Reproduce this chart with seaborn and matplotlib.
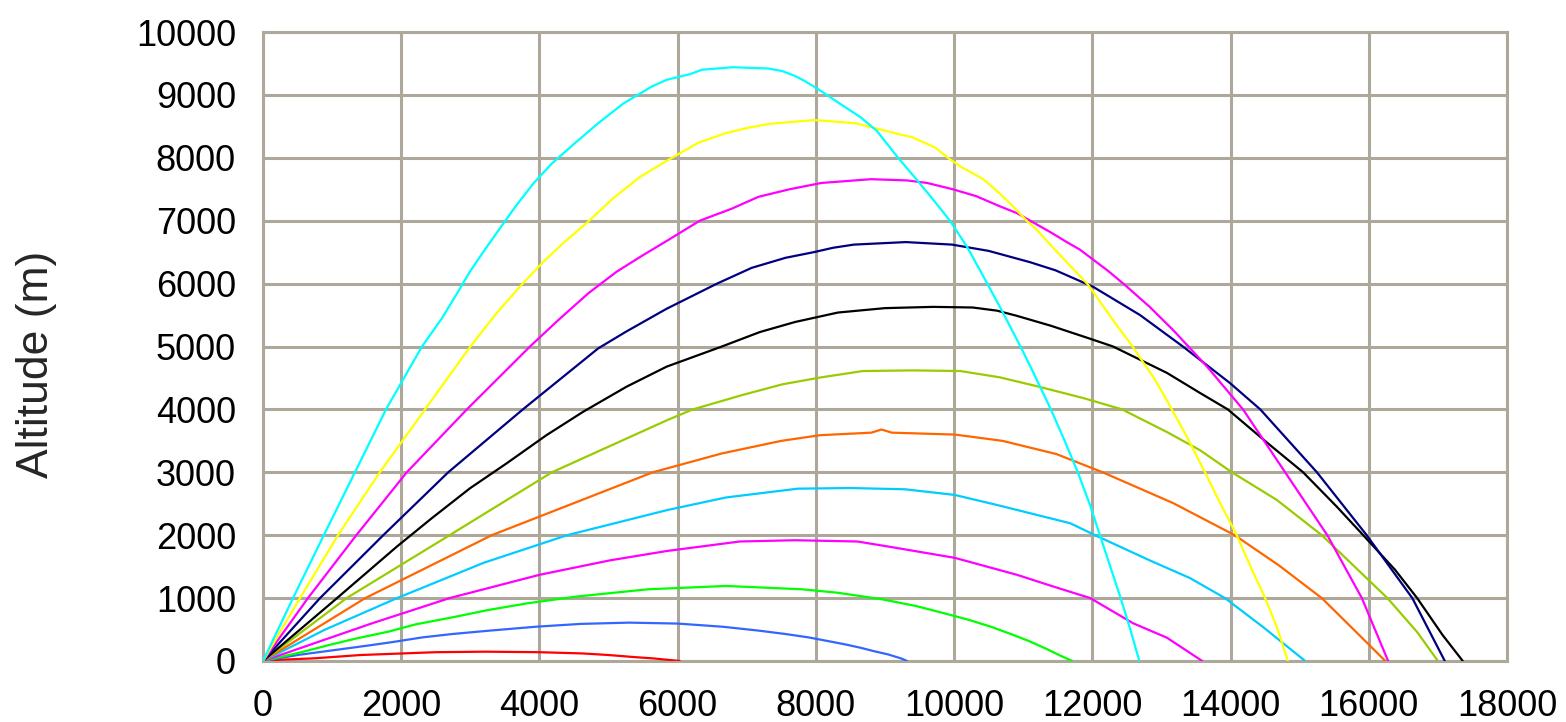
import numpy as np
import pandas as pd
import matplotlib
matplotlib.use("Agg")
import matplotlib.pyplot as plt
import seaborn as sns

# ---- data (distance m, altitude m) ----
t01_x = [0, 250, 735, 1410, 2500, 3220, 4000, 4630, 5000, 5400, 5640, 6030]
t01_y = [0, 20, 42, 95, 140, 148, 140, 120, 95, 60, 42, 0]

t02_x = [0, 500, 1220, 1575, 1910, 2310, 2740, 3270, 3950, 4600, 5300, 6000, 6650, 7180, 7560, 7890, 8170, 8420,
         8640, 8830, 9040, 9230, 9320]
t02_y = [0, 95, 201, 254, 307, 376, 429, 482, 545, 590, 610, 595, 545, 482, 429, 376, 318, 265,
         212, 159, 106, 42, 0]

t03_x = [0, 584, 955, 1356, 1814, 2210, 2740, 3260, 3825, 4525, 5570, 6700, 7800, 8310, 8960, 9450, 9860, 10220,
         10530, 10820, 11070, 11320, 11520, 11710]
t03_y = [0, 148, 254, 360, 466, 583, 694, 811, 917, 1023, 1140, 1193, 1140, 1086, 981, 874, 758, 652,
         546, 429, 323, 201, 95, 0]

t04_x = [0, 1580, 2700, 4000, 5020, 5850, 6900, 7700, 8600, 9100, 10010, 10910, 11390, 11680, 11970, 12590, 13080, 13590]
t04_y = [0, 600, 1000, 1370, 1600, 1750, 1900, 1920, 1900, 1810, 1640, 1370, 1200, 1100, 1000, 600, 370, 0]

t05_x = [0, 900, 1940, 3190, 4400, 5850, 6700, 7740, 8500, 9290, 10010, 10660, 11680, 12040, 12830, 13410, 13920, 14470, 15080]
t05_y = [0, 500, 1000, 1560, 2000, 2400, 2600, 2740, 2750, 2730, 2640, 2470, 2190, 2000, 1600, 1320, 1000, 540, 0]

t06_x = [0, 1480, 3310, 5640, 6640, 7500, 8060, 8800, 8950, 9100, 10010, 10700, 11480, 12150, 13170, 14060, 14700,
         15320, 15800, 16240]
t06_y = [0, 1000, 2000, 3000, 3300, 3500, 3590, 3630, 3680, 3630, 3600, 3500, 3290, 3000, 2510, 2000, 1520,
         1000, 480, 0]

t07_x = [0, 1210, 2700, 4180, 5850, 6220, 6940, 7520, 8080, 8680, 9400, 10090, 10660, 11230, 11870, 12430, 13080,
         13560, 14020, 14670, 15320, 16270, 16700, 17000]
t07_y = [0, 1000, 2000, 3000, 3830, 4000, 4230, 4400, 4510, 4610, 4620, 4610, 4510, 4360, 4180, 4000, 3640,
         3350, 3000, 2560, 2000, 1000, 460, 0]

t08_x = [0, 1018, 1452, 1935, 2441, 2995, 3526, 4105, 4635, 5262, 5841, 6640, 7190, 7700, 8320, 9000, 9700, 10270,
         10620, 10900, 11400, 11950, 12300, 13080, 13560, 13960, 14530, 15050, 15540, 15920, 16380, 16700, 17070, 17360]
t08_y = [0, 950, 1360, 1817, 2269, 2746, 3143, 3593, 3964, 4362, 4680, 5000, 5230, 5390, 5540, 5610, 5630, 5620,
         5570, 5490, 5330, 5130, 5000, 4580, 4260, 4000, 3470, 3000, 2450, 2000, 1450, 1000, 410, 0]

t09_x = [0, 825, 1740, 2680, 3760, 4850, 5260, 5840, 6570, 7070, 7560, 7970, 8250, 8550, 9300, 9970, 10500, 11100,
         11470, 12010, 12690, 13310, 13990, 14430, 15250, 15970, 16630, 17100]
t09_y = [0, 1000, 2000, 3000, 4000, 4970, 5240, 5600, 6000, 6250, 6410, 6500, 6570, 6620, 6660, 6620, 6520, 6340,
         6210, 5950, 5500, 5000, 4420, 4000, 3000, 2000, 1000, 0]

t10_x = [0, 650, 1350, 2080, 2950, 3863, 4273, 4707, 5118, 5503, 5865, 6320, 6780, 7170, 7620, 8080, 8800, 9320,
         9610, 9980, 10320, 10660, 10910, 11100, 11390, 11630, 11820, 12230, 12480, 12830, 13170, 13390, 13660,
         14180, 14790, 15400, 15900, 16280]
t10_y = [0, 1000, 2000, 3000, 4000, 5000, 5420, 5846, 6190, 6455, 6694, 7000, 7190, 7380, 7500, 7600, 7660, 7640,
         7600, 7500, 7390, 7230, 7120, 7000, 6820, 6660, 6540, 6200, 5970, 5630, 5260, 5000, 4680,
         4000, 3000, 2000, 1000, 0]

t11_x = [0, 535, 1085, 1690, 2345, 3000, 3380, 3740, 4060, 4350, 4710, 5070, 5460, 5870, 6300, 6690, 7030, 7330,
         7970, 8570, 8970, 9180, 9390, 9550, 9730, 9910, 10110, 10260, 10420, 10570, 10710, 10850, 11050, 11200,
         11390, 11940, 12350, 12570, 12690, 12880, 13050, 13150, 13370, 13630, 13850, 14090, 14310, 14500, 14670,
         14830]
t11_y = [0, 1000, 2000, 3000, 4000, 5000, 5530, 5980, 6350, 6650, 6990, 7360, 7700, 7970, 8240, 8390, 8480, 8540,
         8600, 8550, 8440, 8380, 8330, 8250, 8160, 8000, 7850, 7760, 7660, 7520, 7380, 7230, 7000, 6850,
         6620, 5980, 5340, 5020, 4820, 4520, 4200, 4000, 3560, 3000, 2510, 2000, 1450, 1000, 540,
         0]

t12_x = [0, 434, 880, 1330, 1780, 2300, 2590, 2800, 3000, 3210, 3410, 3650, 3910, 4180, 4510, 4850, 5210, 5620,
         5840, 6180, 6350, 6800, 7310, 7510, 7700, 7840, 8050, 8320, 8640, 8880, 9190, 9460, 9700, 9940, 10190,
         10480, 10710, 10960, 11140, 11400, 11600, 11790, 11960, 12110, 12260, 12410, 12550, 12680]
t12_y = [0, 1000, 2000, 3000, 4000, 5000, 5450, 5830, 6200, 6540, 6850, 7220, 7590, 7910, 8230, 8550, 8860, 9130,
         9240, 9330, 9400, 9440, 9420, 9380, 9300, 9220, 9080, 8880, 8650, 8430, 8000, 7650, 7330, 7000, 6580,
         6000, 5530, 5000, 4600, 4000, 3500, 3000, 2500, 2000, 1500, 1000, 500, 0]

series_names = [f"T{i:02d}" for i in range(1, 13)]
series_x = [t01_x, t02_x, t03_x, t04_x, t05_x, t06_x, t07_x, t08_x, t09_x, t10_x, t11_x, t12_x]
series_y = [t01_y, t02_y, t03_y, t04_y, t05_y, t06_y, t07_y, t08_y, t09_y, t10_y, t11_y, t12_y]
series_colors = ["#FF0000", "#3366FF", "#00FF00", "#FF00FF", "#00CCFF", "#FF6600",
                 "#99CC00", "#000000", "#000080", "#FF00FF", "#FFFF00", "#00FFFF"]

x_ticks = [0, 2000, 4000, 6000, 8000, 10000, 12000, 14000, 16000, 18000]
y_ticks = [0, 1000, 2000, 3000, 4000, 5000, 6000, 7000, 8000, 9000, 10000]
y_label = "Altitude (m)"

# ---- build long-form table ----
frames = []
for name, xs, ys in zip(series_names, series_x, series_y):
    frames.append(pd.DataFrame({"x": xs, "y": ys, "series": name}))
df = pd.concat(frames, ignore_index=True)

sns.set_style("white")
plt.rcParams["font.family"] = ["Liberation Sans", "DejaVu Sans"]

grid_c = "#ADA899"
fig = plt.figure(figsize=(15.66, 7.22), dpi=100)
ax = fig.add_axes([263 / 1566, 61 / 722, 1244 / 1566, 629 / 722])

sns.lineplot(data=df, x="x", y="y", hue="series", palette=dict(zip(series_names, series_colors)),
             sort=False, estimator=None, units="series", legend=False, linewidth=1.6, ax=ax, zorder=3)

ax.set_xlim(0, 18000)
ax.set_ylim(0, 10000)
ax.set_xticks(x_ticks)
ax.set_yticks(y_ticks)
ax.set_xticklabels([str(v) for v in x_ticks])
ax.set_yticklabels([str(v) for v in y_ticks])
ax.grid(True, color=grid_c, linewidth=2.2, zorder=0)
ax.set_axisbelow(True)
for s in ax.spines.values():
    s.set_visible(True)
    s.set_color(grid_c)
    s.set_linewidth(2.2)
ax.tick_params(axis="both", which="major", direction="out", length=11.5, width=2.2,
               color=grid_c, labelsize=26, labelcolor="black", pad=8)
ax.tick_params(axis="x", pad=9)
ax.set_xlabel("")
ax.set_ylabel(y_label, fontsize=32, va="center")
ax.yaxis.set_label_coords(-0.182, 0.472)

fig.savefig("out.png", dpi=100)
